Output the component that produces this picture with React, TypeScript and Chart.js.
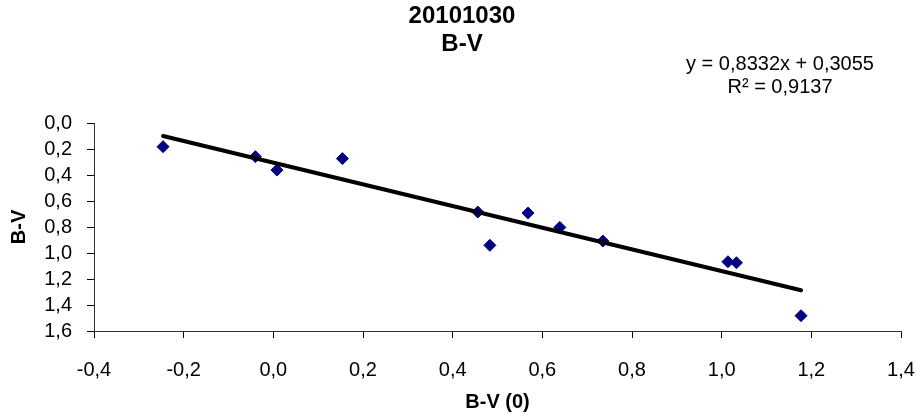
import React, { useEffect, useRef } from "react";
import { Chart, registerables } from "chart.js";

Chart.register(...registerables);

// Data
const bvZero = [-0.246, -0.04, 0.008, 0.154, 0.456, 0.483, 0.568, 0.639, 0.735, 1.014, 1.033, 1.177];
const bv = [0.182, 0.259, 0.362, 0.274, 0.685, 0.941, 0.692, 0.803, 0.908, 1.067, 1.075, 1.482];

// Linear trendline endpoints (y = 0,8332x + 0,3055 over the data range)
const trendX = [-0.246, 1.177];
const trendY = [0.0995, 1.2862];

const titleLines = ["20101030", "B-V"];
const equationLines = ["y = 0,8332x + 0,3055", "R² = 0,9137"];
const xTitle = "B-V (0)";
const yTitle = "B-V";

const FONT = '"Liberation Sans", Arial, sans-serif';

const fmt = (v: number) => {
  const n = Math.abs(v) < 1e-9 ? 0 : v;
  return n.toFixed(1).replace(".", ",");
};

const equationPlugin = {
  id: "equationText",
  afterDraw(chart: any) {
    const ctx = chart.ctx;
    ctx.save();
    ctx.font = `20px ${FONT}`;
    ctx.fillStyle = "#000";
    ctx.textAlign = "center";
    ctx.textBaseline = "middle";
    const cx = chart.chartArea.right - 121;
    ctx.fillText(equationLines[0], cx, 64);
    ctx.fillText(equationLines[1], cx, 87);
    ctx.restore();
  },
};

export default function App() {
  const ref = useRef<HTMLCanvasElement | null>(null);

  useEffect(() => {
    if (!ref.current) return;
    const chart = new Chart(ref.current, {
      type: "scatter",
      data: {
        datasets: [
          {
            label: "Trend",
            data: trendX.map((x, i) => ({ x, y: trendY[i] })),
            showLine: true,
            borderColor: "#000",
            borderWidth: 4,
            borderCapStyle: "round",
            pointRadius: 0,
            pointHoverRadius: 0,
            fill: false,
          },
          {
            label: "B-V",
            data: bvZero.map((x, i) => ({ x, y: bv[i] })),
            pointStyle: "rectRot",
            pointRadius: 6,
            pointHoverRadius: 6,
            backgroundColor: "#000080",
            borderColor: "#000080",
            borderWidth: 1,
            showLine: false,
          },
        ],
      },
      options: {
        animation: false,
        responsive: true,
        maintainAspectRatio: false,
        layout: { padding: { left: 7, right: 0, top: 0, bottom: 0 } },
        plugins: {
          legend: { display: false },
          tooltip: { enabled: false },
          title: {
            display: true,
            text: titleLines,
            color: "#000",
            font: { family: FONT, size: 24, weight: "bold", lineHeight: 1.15 },
            padding: { top: 3, bottom: 64.8 },
          },
        },
        scales: {
          x: {
            type: "linear",
            min: -0.4,
            max: 1.4,
            ticks: {
              stepSize: 0.2,
              autoSkip: false,
              color: "#000",
              font: { family: FONT, size: 20 },
              padding: 20,
              callback: (v: any) => fmt(Number(v)),
            },
            grid: {
              drawOnChartArea: false,
              drawTicks: true,
              tickLength: 7,
              tickColor: "#000",
            },
            border: { display: true, color: "#333", width: 1 },
            title: {
              display: true,
              text: xTitle,
              color: "#000",
              font: { family: FONT, size: 20, weight: "bold", lineHeight: 1.2 },
              padding: { top: 0, bottom: 5 },
            },
            afterFit: (scale: any) => {
              scale.height = 88;
              scale.paddingRight = 16;
            },
          },
          y: {
            type: "linear",
            reverse: true,
            min: 0,
            max: 1.6,
            ticks: {
              stepSize: 0.2,
              autoSkip: false,
              color: "#000",
              font: { family: FONT, size: 20, lineHeight: 1.0 },
              padding: 15,
              callback: (v: any) => fmt(Number(v)),
            },
            grid: {
              drawOnChartArea: false,
              drawTicks: true,
              tickLength: 7,
              tickColor: "#000",
            },
            border: { display: true, color: "#333", width: 1 },
            title: {
              display: true,
              text: yTitle,
              color: "#000",
              font: { family: FONT, size: 20, weight: "bold", lineHeight: 1.2 },
              padding: { top: 0, bottom: 0 },
            },
            afterFit: (scale: any) => {
              scale.width = 87;
            },
          },
        },
      },
      plugins: [equationPlugin],
    });
    return () => chart.destroy();
  }, []);

  return (
    <div
      style={{
        position: "fixed",
        left: 0,
        top: 0,
        width: "917px",
        height: "419px",
        background: "#fff",
      }}
    >
      <canvas ref={ref} />
    </div>
  );
}
